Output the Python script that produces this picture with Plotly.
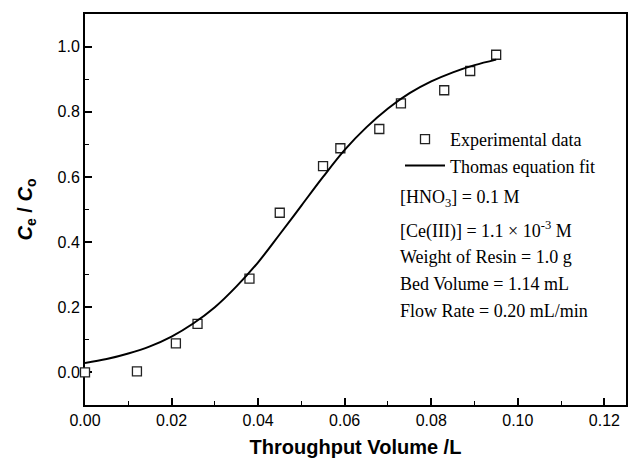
import plotly.graph_objects as go

# Experimental data (throughput volume in L, Ce/Co)
exp_x = [0.000, 0.012, 0.021, 0.026, 0.038, 0.045, 0.055, 0.059, 0.068, 0.073, 0.083, 0.089, 0.095]
exp_y = [0.000, 0.003, 0.089, 0.149, 0.288, 0.490, 0.633, 0.688, 0.747, 0.826, 0.866, 0.925, 0.975]

# Thomas equation fit curve
fit_x = [0.000, 0.005, 0.010, 0.015, 0.020, 0.025, 0.030, 0.035, 0.040, 0.045,
         0.050, 0.055, 0.060, 0.065, 0.070, 0.075, 0.080, 0.085, 0.090, 0.095]
fit_y = [0.029, 0.041, 0.058, 0.080, 0.110, 0.150, 0.200, 0.264, 0.338, 0.424,
         0.512, 0.600, 0.683, 0.752, 0.810, 0.857, 0.893, 0.921, 0.943, 0.960]

x_ticks = [0.00, 0.02, 0.04, 0.06, 0.08, 0.10, 0.12]
x_tick_labels = ["0.00", "0.02", "0.04", "0.06", "0.08", "0.10", "0.12"]
y_ticks = [0.0, 0.2, 0.4, 0.6, 0.8, 1.0]
y_tick_labels = ["0.0", "0.2", "0.4", "0.6", "0.8", "1.0"]

info_lines = [
    "[HNO<sub>3</sub>] = 0.1 M",
    "[Ce(III)] = 1.1 × 10<sup>-3</sup> M",
    "Weight of Resin = 1.0 g",
    "Bed Volume = 1.14 mL",
    "Flow Rate = 0.20 mL/min",
]

W, H = 629, 458
ML, MR, MT, MB = 85, 3, 14, 53
PW, PH = W - ML - MR, H - MT - MB

def px(x):
    return (x - ML) / PW

def py(y):
    return (H - MB - y) / PH

fig = go.Figure()
fig.add_trace(go.Scatter(
    x=exp_x, y=exp_y, mode="markers", name="Experimental data",
    marker=dict(symbol="square", size=9, color="white",
                line=dict(color="#222", width=1.3)),
    cliponaxis=False,
))
fig.add_trace(go.Scatter(
    x=fit_x, y=fit_y, mode="lines", name="Thomas equation fit",
    line=dict(color="black", width=2, shape="spline"),
))

info_y = [198, 230, 257, 284, 311]
for txt, yy in zip(info_lines, info_y):
    fig.add_annotation(
        x=px(398), y=py(yy), xref="paper", yref="paper",
        xanchor="left", yanchor="middle", showarrow=False, text=txt,
        font=dict(family="Liberation Serif, Times New Roman, serif", size=18, color="black"),
    )

axis_common = dict(
    showgrid=False, zeroline=False, showline=True, linecolor="black", linewidth=2,
    mirror=True, ticks="inside", ticklen=7, tickwidth=1.5, tickcolor="black",
    tickfont=dict(family="Liberation Sans, Arial, sans-serif", size=16, color="black"),
    layer="below traces",
)

fig.update_xaxes(
    range=[0, 0.125], tickvals=x_ticks, ticktext=x_tick_labels,
    minor=dict(dtick=0.01, ticks="inside", ticklen=4, tickwidth=1.2, tickcolor="black", tick0=0),
    title=dict(text="<b>Throughput Volume /L</b>", standoff=12,
               font=dict(family="Liberation Sans, Arial, sans-serif", size=20, color="black")),
    **axis_common,
)
fig.update_yaxes(
    range=[-0.1, 1.1], tickvals=y_ticks, ticktext=y_tick_labels,
    minor=dict(dtick=0.1, ticks="inside", ticklen=4, tickwidth=1.2, tickcolor="black", tick0=0),
    title=dict(text="<b><i>C</i><sub>e</sub> / <i>C</i><sub>o</sub></b>", standoff=20,
               font=dict(family="Liberation Sans, Arial, sans-serif", size=20, color="black")),
    **axis_common,
)

fig.update_layout(
    width=W, height=H, autosize=False,
    margin=dict(l=ML, r=MR, t=MT, b=MB, autoexpand=False),
    paper_bgcolor="white", plot_bgcolor="white",
    showlegend=True,
    legend=dict(
        x=px(400), y=py(121), xanchor="left", yanchor="top",
        bgcolor="rgba(0,0,0,0)", borderwidth=0,
        font=dict(family="Liberation Serif, Times New Roman, serif", size=18, color="black"),
        tracegroupgap=0, itemwidth=40,
    ),
)

fig.write_html("out.html")
